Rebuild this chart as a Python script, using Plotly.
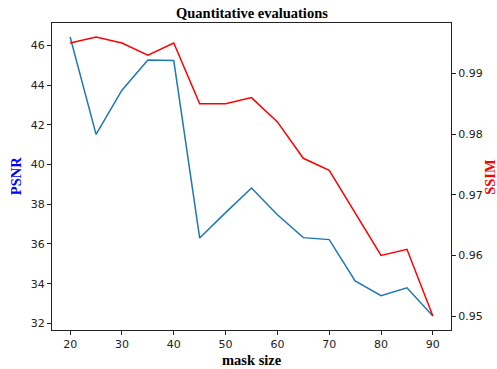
import plotly.graph_objects as go

mask_size = [20, 25, 30, 35, 40, 45, 50, 55, 60, 65, 70, 75, 80, 85, 90]
psnr = [46.43, 41.52, 43.75, 45.27, 45.24, 36.30, 37.58, 38.82, 37.47, 36.32, 36.22, 34.14, 33.40, 33.79, 32.37]
ssim = [0.995, 0.996, 0.995, 0.993, 0.995, 0.985, 0.985, 0.986, 0.982, 0.976, 0.974, 0.967, 0.960, 0.961, 0.950]

x_ticks = [20, 30, 40, 50, 60, 70, 80, 90]
psnr_ticks = [32, 34, 36, 38, 40, 42, 44, 46]
ssim_ticks = [0.95, 0.96, 0.97, 0.98, 0.99]

def padded(vals, frac=0.05):
    lo, hi = min(vals), max(vals)
    m = (hi - lo) * frac
    return [lo - m, hi + m]

serif = "Liberation Serif, Times New Roman, serif"
tick_font = dict(family="DejaVu Sans, sans-serif", size=11, color="#222")

fig = go.Figure()
fig.add_trace(go.Scatter(x=mask_size, y=psnr, mode="lines", name="PSNR",
                         line=dict(color="#1f77b4", width=1.5), yaxis="y"))
fig.add_trace(go.Scatter(x=mask_size, y=ssim, mode="lines", name="SSIM",
                         line=dict(color="red", width=1.5), yaxis="y2"))

axis_common = dict(showgrid=False, zeroline=False, showline=True, linecolor="#222",
                   linewidth=1, ticks="outside", ticklen=4, tickcolor="#222",
                   tickwidth=1, tickfont=tick_font, automargin=False)

fig.update_layout(
    width=497, height=369,
    margin=dict(l=52, r=46, t=23, b=39),
    paper_bgcolor="white", plot_bgcolor="white",
    showlegend=False,
    xaxis=dict(**axis_common, range=padded(mask_size), tickvals=x_ticks, mirror=True),
    yaxis=dict(**axis_common, range=padded(psnr), tickvals=psnr_ticks),
    yaxis2=dict(**axis_common, range=padded(ssim), tickvals=ssim_ticks, overlaying="y", side="right",
                tickformat=".2f"),
    annotations=[
        dict(text="<b>Quantitative evaluations</b>", x=0.5, y=1.033, xref="paper", yref="paper",
             xanchor="center", yanchor="middle", showarrow=False,
             font=dict(family=serif, size=14.5, color="black")),
        dict(text="<b>mask size</b>", x=0.5, y=-0.097, xref="paper", yref="paper",
             xanchor="center", yanchor="middle", showarrow=False,
             font=dict(family=serif, size=14.5, color="black")),
        dict(text="<b>PSNR</b>", x=-0.091, y=0.5, xref="paper", yref="paper", textangle=-90,
             xanchor="center", yanchor="middle", showarrow=False,
             font=dict(family=serif, size=14.5, color="blue")),
        dict(text="<b>SSIM</b>", x=1.096, y=0.5, xref="paper", yref="paper", textangle=-90,
             xanchor="center", yanchor="middle", showarrow=False,
             font=dict(family=serif, size=14.5, color="red")),
    ],
)

fig.write_html("out.html", config={"displayModeBar": False},
               post_script="document.body.style.margin='0';document.body.style.padding='0';"
                           "document.body.style.overflow='hidden';")
